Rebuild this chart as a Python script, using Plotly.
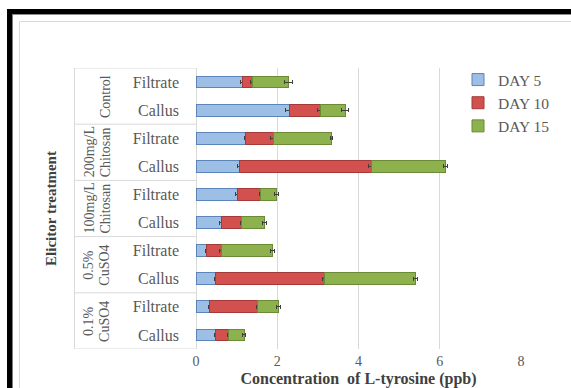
import plotly.graph_objects as go

# ---- data ----
groups = ["Control", "200mg/L Chitosan", "100mg/L Chitosan", "0.5% CuSO4", "0.1% CuSO4"]
group_lines = [["Control"], ["200mg/L", "Chitosan"], ["100mg/L", "Chitosan"],
               ["0.5%", "CuSO4"], ["0.1%", "CuSO4"]]
subs = ["Filtrate", "Callus"]
series_names = ["DAY 5", "DAY 10", "DAY 15"]

# rows ordered top -> bottom: (group, sub)
day5 = [1.15, 2.29, 1.23, 1.06, 1.01, 0.62, 0.25, 0.47, 0.33, 0.47]
day10 = [0.24, 0.77, 0.67, 3.25, 0.58, 0.51, 0.37, 2.70, 1.19, 0.33]
day15 = [0.88, 0.61, 1.43, 1.82, 0.39, 0.56, 1.26, 2.23, 0.51, 0.39]
err5 = [0.05, 0.08, 0.03, 0.05, 0.04, 0.04, 0.02, 0.02, 0.02, 0.02]
err10 = [0.06, 0.08, 0.06, 0.06, 0.03, 0.04, 0.03, 0.06, 0.03, 0.03]
err15 = [0.10, 0.08, 0.03, 0.05, 0.04, 0.05, 0.05, 0.05, 0.04, 0.04]

x_ticks = [0, 2, 4, 6, 8]

# ---- styling ----
fill_colors = ["#9DBFE6", "#D2504D", "#8DB14C"]
line_colors = ["#5B84B8", "#A23B39", "#6A8A35"]
SERIF = "Liberation Serif"
GRAY = "#595959"
W, H = 571, 388
ML, MR, MT, MB = 196, 50, 68, 39
PW, PH = W - ML - MR, H - MT - MB


def px2x(px):
    return (px - ML) / PW


def px2y(py):
    return (H - MB - py) / PH


ykeys = [f"{g} | {s}" for g in groups for s in subs]
ytext = [s for g in groups for s in subs]

fig = go.Figure()
for name, vals, errs, fc, lc in zip(series_names, [day5, day10, day15],
                                    [err5, err10, err15], fill_colors, line_colors):
    fig.add_trace(go.Bar(
        y=ykeys, x=vals, orientation="h", name=name,
        marker=dict(color=fc, line=dict(color=lc, width=1)),
        error_x=dict(type="data", array=errs, color="#3F3F3F", thickness=1, width=2),
    ))

shapes = []
# outer black frame (top & left) and inner light frame
shapes.append(dict(type="rect", xref="paper", yref="paper", x0=px2x(7), x1=px2x(W),
                   y0=px2y(14), y1=px2y(9), fillcolor="black", line=dict(width=0)))
shapes.append(dict(type="rect", xref="paper", yref="paper", x0=px2x(7), x1=px2x(12.5),
                   y0=px2y(H), y1=px2y(9), fillcolor="black", line=dict(width=0)))
shapes.append(dict(type="line", xref="paper", yref="paper", x0=px2x(12.5), x1=px2x(W),
                   y0=px2y(14.5), y1=px2y(14.5), line=dict(color="#8C8C8C", width=1)))
shapes.append(dict(type="line", xref="paper", yref="paper", x0=px2x(19.5), x1=px2x(W),
                   y0=px2y(21.5), y1=px2y(21.5), line=dict(color="#D9D9D9", width=1)))
shapes.append(dict(type="line", xref="paper", yref="paper", x0=px2x(19.5), x1=px2x(19.5),
                   y0=px2y(H), y1=px2y(21.5), line=dict(color="#D9D9D9", width=1)))
# category table lines
n = len(ykeys)
for i in range(len(groups) + 1):
    yb = 2 * i - 0.5
    shapes.append(dict(type="line", xref="paper", yref="y", x0=px2x(74), x1=0,
                       y0=yb, y1=yb, line=dict(color="#D9D9D9", width=1)))
shapes.append(dict(type="line", xref="paper", yref="y", x0=px2x(74.5), x1=px2x(74.5),
                   y0=-0.5, y1=n - 0.5, line=dict(color="#D9D9D9", width=1)))

annotations = []
for i, lines in enumerate(group_lines):
    k = len(lines)
    for j, t in enumerate(lines):
        xpx = 105 - 16 * (k - 1 - j)
        annotations.append(dict(text=t, xref="paper", yref="y", x=px2x(xpx), y=2 * i + 0.5,
                                textangle=-90, showarrow=False, xanchor="center", yanchor="middle",
                                font=dict(family=SERIF, size=14, color=GRAY)))

fig.update_layout(
    width=W, height=H,
    margin=dict(l=ML, r=MR, t=MT, b=MB, autoexpand=False),
    paper_bgcolor="white", plot_bgcolor="white",
    barmode="stack", bargap=0.58,
    showlegend=True,
    legend=dict(x=px2x(458), y=px2y(63), xanchor="left", yanchor="top",
                traceorder="normal", bgcolor="rgba(0,0,0,0)",
                font=dict(family=SERIF, size=15.5, color=GRAY), itemwidth=30,
                tracegroupgap=0),
    xaxis=dict(range=[0, 8], tickvals=x_ticks, showgrid=True, gridcolor="#D9D9D9",
               zeroline=True, zerolinecolor="#D9D9D9", zerolinewidth=1, showline=False,
               ticks="", ticklabelstandoff=2, automargin=False,
               tickfont=dict(family=SERIF, size=14, color=GRAY),
               title=dict(text="Concentration  of L-tyrosine (ppb)", standoff=7,
                          font=dict(family=SERIF, size=16, color="#404040", weight="bold"))),
    yaxis=dict(type="category", categoryarray=ykeys, tickvals=ykeys, ticktext=ytext,
               range=[n - 0.5, -0.5], showgrid=False, zeroline=False, showline=False,
               ticks="", ticklabelstandoff=16, automargin=False,
               tickfont=dict(family=SERIF, size=16, color=GRAY),
               title=dict(text="Elicitor treatment", standoff=72,
                          font=dict(family=SERIF, size=15, color="#404040", weight="bold"))),
    shapes=shapes, annotations=annotations,
)

fig.write_html("out.html")
